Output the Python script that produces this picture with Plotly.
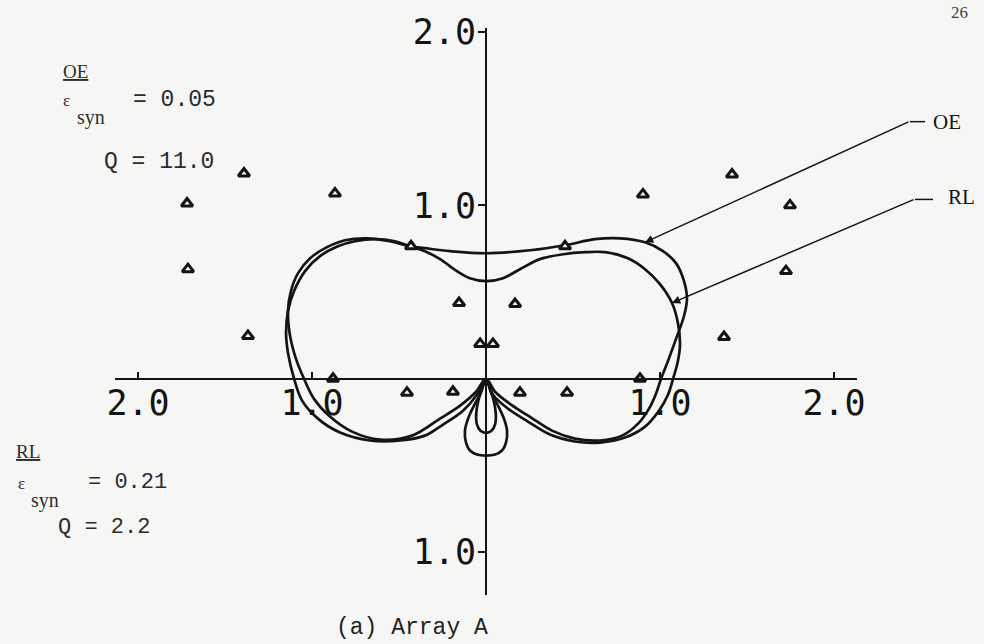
import plotly.graph_objects as go

# Radiation pattern contours (normalized field), traced counter-clockwise from the origin
OE_X = [0, 0.052, 0.144, 0.259, 0.379, 0.511, 0.655, 0.782, 0.874, 0.937, 0.977, 1.006,
        1.046, 1.092, 1.138, 1.155, 1.138, 1.092, 1.017, 0.914, 0.770, 0.626, 0.454, 0.253,
        0, -0.207, -0.351, -0.437, -0.552, -0.684, -0.810, -0.914, -1.011, -1.080, -1.121,
        -1.138, -1.126, -1.092, -1.046, -0.989, -0.897, -0.770, -0.609, -0.425, -0.264,
        -0.149, -0.057, 0]
OE_Y = [0, -0.075, -0.149, -0.224, -0.299, -0.345, -0.356, -0.328, -0.259, -0.172, -0.086, 0,
        0.103, 0.230, 0.362, 0.460, 0.563, 0.667, 0.736, 0.787, 0.810, 0.805, 0.770, 0.741,
        0.724, 0.736, 0.753, 0.764, 0.793, 0.810, 0.799, 0.759, 0.695, 0.609, 0.506,
        0.391, 0.247, 0.115, 0, -0.115, -0.218, -0.305, -0.351, -0.328, -0.230,
        -0.155, -0.075, 0]

RL_X = [0, 0.040, 0.126, 0.241, 0.368, 0.511, 0.655, 0.799, 0.914, 0.994, 1.046, 1.075,
        1.103, 1.115, 1.103, 1.069, 1.000, 0.914, 0.816, 0.684, 0.569, 0.443, 0.310, 0.195,
        0.098, 0, -0.092, -0.167, -0.264, -0.351, -0.437, -0.523, -0.638, -0.753, -0.851,
        -0.954, -1.040, -1.103, -1.138, -1.149, -1.138, -1.103, -1.057, -0.966, -0.839,
        -0.667, -0.494, -0.351, -0.247, -0.132, -0.052, 0]
RL_Y = [0, -0.092, -0.172, -0.247, -0.322, -0.362, -0.368, -0.339, -0.276, -0.184, -0.092, 0,
        0.103, 0.201, 0.322, 0.437, 0.546, 0.632, 0.695, 0.730, 0.730, 0.718, 0.690, 0.632,
        0.580, 0.563, 0.580, 0.621, 0.690, 0.736, 0.764, 0.793, 0.805, 0.793, 0.764,
        0.707, 0.621, 0.506, 0.391, 0.259, 0.149, 0, -0.126, -0.230, -0.310,
        -0.356, -0.356, -0.328, -0.264, -0.184, -0.092, 0]

# Back lobes below the origin
OE_BACK_X = [0, -0.024, -0.045, -0.056, -0.053, -0.032, 0, 0.032, 0.053, 0.056, 0.045, 0.024, 0]
OE_BACK_Y = [0, -0.060, -0.130, -0.200, -0.260, -0.300, -0.312, -0.300, -0.260, -0.200, -0.130, -0.060, 0]
RL_BACK_X = [0, -0.029, -0.069, -0.103, -0.121, -0.115, -0.092, -0.052, 0,
             0.052, 0.092, 0.115, 0.121, 0.103, 0.069, 0.029, 0]
RL_BACK_Y = [0, -0.080, -0.155, -0.230, -0.299, -0.368, -0.414, -0.437, -0.443,
             -0.437, -0.414, -0.368, -0.299, -0.230, -0.155, -0.080, 0]

# Array A element positions
ELEM_X = [-1.718, -1.391, -0.868, -1.713, -1.368, -0.431, -0.155, -0.034, 0.040, 0.167, 0.454,
          0.902, 1.414, 1.747, 1.724, 1.368, -0.879, -0.454, -0.190, 0.195, 0.466, 0.885]
ELEM_Y = [1.011, 1.184, 1.069, 0.632, 0.247, 0.764, 0.437, 0.201, 0.201, 0.431, 0.764,
          1.063, 1.178, 1.000, 0.621, 0.241, 0.0, -0.080, -0.075, -0.080, -0.080, 0.0]

# Axis ticks
X_TICKS = [-2, -1, 1, 2]
X_TICK_TEXT = ["2.0", "1.0", "1.0", "2.0"]
Y_TICKS = [-1, 1, 2]
Y_TICK_TEXT = ["1.0", "1.0", "2.0"]

# Page geometry (pixels)
W, H = 984, 644
L, R, T, B = 115, 127, 26, 49
OX, OY = 486, 378          # origin in pixels
S = 174.0                  # pixels per unit
PW, PH = W - L - R, H - T - B

x_range = [(L - OX) / S, (W - R - OX) / S]
y_range = [(OY - (H - B)) / S, (OY - T) / S]


def paper_x(px):
    return (px - L) / PW


def paper_y(py):
    return (H - B - py) / PH


INK = "#141414"
PAPER = "#f6f6f4"
AX_FONT = dict(family="DejaVu Sans Mono", size=35, color=INK)

fig = go.Figure()

curve_style = dict(mode="lines", line=dict(color=INK, width=2.7, shape="spline", smoothing=1.0),
                   hoverinfo="skip", showlegend=False)
fig.add_trace(go.Scatter(x=OE_X, y=OE_Y, name="OE", **curve_style))
fig.add_trace(go.Scatter(x=RL_X, y=RL_Y, name="RL", **curve_style))
fig.add_trace(go.Scatter(x=OE_BACK_X, y=OE_BACK_Y, name="OE back", **curve_style))
fig.add_trace(go.Scatter(x=RL_BACK_X, y=RL_BACK_Y, name="RL back", **curve_style))

fig.add_trace(go.Scatter(
    x=ELEM_X, y=ELEM_Y, mode="markers", name="elements", showlegend=False, hoverinfo="skip",
    marker=dict(symbol="triangle-up", size=10, color=PAPER, line=dict(color=INK, width=3)),
))

annotations = []


def text(s, px, py, size, family, color="#2c2c2c", xanchor="left"):
    annotations.append(dict(text=s, x=paper_x(px), y=paper_y(py), xref="paper", yref="paper",
                            xanchor=xanchor, yanchor="middle", showarrow=False,
                            font=dict(family=family, size=size, color=color)))


SERIF = "Liberation Serif"
MONO = "Liberation Mono"

# Left parameter blocks
text("<u>OE</u>", 61, 70, 19, SERIF)
text("\u03b5", 61, 99, 17, SERIF)
text("syn", 75, 116, 20, SERIF)
text("= 0.05", 131, 98, 23, MONO)
text("Q = 11.0", 102, 160, 23, MONO)

text("<u>RL</u>", 14, 451, 19, SERIF)
text("\u03b5", 16, 483, 17, SERIF)
text("syn", 29, 500, 20, SERIF)
text("= 0.21", 86, 482, 22, MONO)
text("Q = 2.2", 56, 527, 22, MONO)

# Curve labels
text("OE", 931, 120, 21, SERIF, color=INK)
text("RL", 946, 196, 21, SERIF, color=INK)

# Caption and page number
text("(a) Array A", 412, 628, 23, MONO, color="#222222", xanchor="center")
text("26", 960, 10, 17, SERIF, color="#444444", xanchor="center")


def leader(xd, yd, tail_px, tail_py):
    head_px = OX + xd * S
    head_py = OY - yd * S
    annotations.append(dict(text="", x=xd, y=yd, xref="x", yref="y",
                            ax=tail_px - head_px, ay=tail_py - head_py,
                            showarrow=True, arrowhead=2, arrowsize=1.1, arrowwidth=1.5,
                            arrowcolor=INK))


leader(OE_X[19], OE_Y[19], 910, 120)
leader(RL_X[15], RL_Y[15], 915, 198)

shapes = [
    dict(type="line", xref="paper", yref="paper", x0=paper_x(910), x1=paper_x(925),
         y0=paper_y(120), y1=paper_y(120), line=dict(color=INK, width=1.5)),
    dict(type="line", xref="paper", yref="paper", x0=paper_x(915), x1=paper_x(933),
         y0=paper_y(198), y1=paper_y(198), line=dict(color=INK, width=1.5)),
]

fig.update_layout(
    width=W, height=H, autosize=False,
    margin=dict(l=L, r=R, t=T, b=B, pad=0),
    paper_bgcolor=PAPER, plot_bgcolor=PAPER,
    showlegend=False, hovermode=False,
    annotations=annotations, shapes=shapes,
    xaxis=dict(range=x_range, anchor="free", position=paper_y(OY), showgrid=False,
               zeroline=False, showline=True, linecolor=INK, linewidth=2,
               tickmode="array", tickvals=X_TICKS, ticktext=X_TICK_TEXT,
               ticks="inside", ticklen=6, tickwidth=2, tickcolor=INK,
               tickfont=AX_FONT, ticklabelstandoff=-7, fixedrange=True),
    yaxis=dict(range=y_range, anchor="free", position=paper_x(OX), showgrid=False,
               zeroline=False, showline=True, linecolor=INK, linewidth=2,
               tickmode="array", tickvals=Y_TICKS, ticktext=Y_TICK_TEXT,
               ticks="outside", ticklen=7, tickwidth=2, tickcolor=INK,
               tickfont=AX_FONT, ticklabelstandoff=-5, fixedrange=True),
)

fig.write_html("out.html", config={"displayModeBar": False})
